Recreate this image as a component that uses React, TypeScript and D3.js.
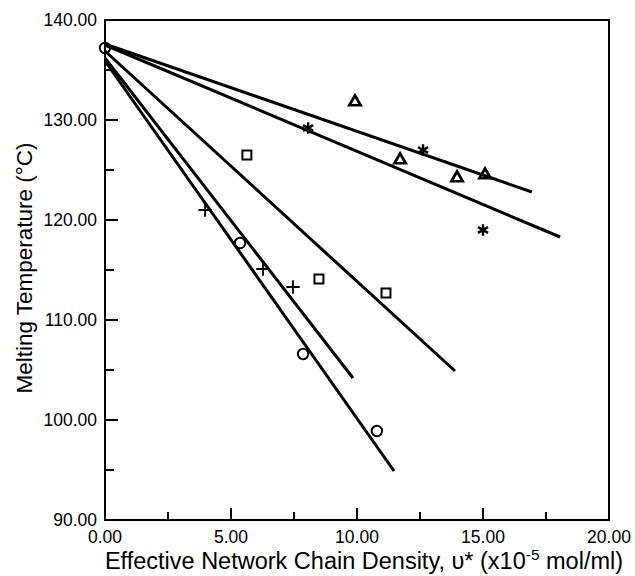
import React, { useEffect, useRef } from 'react';
import * as d3 from 'd3';

// fitted lines: [v start, T start, v end, T end]
const lineTriangle = [0, 137.6, 16.94, 122.8];
const lineStar = [0, 137.5, 18.06, 118.3];
const lineSquare = [0, 136.9, 13.89, 104.9];
const linePlus = [0, 136.2, 9.84, 104.2];
const lineCircle = [0, 135.9, 11.47, 94.9];

// measured points [v, T]
const triangles = [[9.92, 131.8], [11.71, 126.0], [13.97, 124.2], [15.08, 124.5]];
const stars = [[8.06, 129.2], [12.62, 127.0], [15.0, 119.0]];
const squares = [[5.63, 126.5], [8.49, 114.1], [11.15, 112.7]];
const pluses = [[3.97, 121.0], [6.27, 115.1], [7.46, 113.3]];
const circles = [[0, 137.2], [5.36, 117.7], [7.86, 106.6], [10.79, 98.9]];

const xTicks = [0, 2.5, 5, 7.5, 10, 12.5, 15, 17.5, 20];
const yTicks = [90, 95, 100, 105, 110, 115, 120, 125, 130, 135, 140];

const W = 635;
const H = 576;
const FONT = 'Liberation Sans, Arial, Helvetica, sans-serif';

const App = () => {
  const ref = useRef<SVGSVGElement>(null);

  useEffect(() => {
    const svg = d3.select(ref.current);
    svg.selectAll('*').remove();

    const x = d3.scaleLinear().domain([0, 20]).range([105, 609]);
    const y = d3.scaleLinear().domain([90, 140]).range([520, 20]);

    // frame
    svg.append('rect')
      .attr('x', x(0)).attr('y', y(140))
      .attr('width', x(20) - x(0)).attr('height', y(90) - y(140))
      .attr('fill', 'none').attr('stroke', '#000').attr('stroke-width', 2);

    // x ticks (inward)
    svg.append('g').selectAll('line').data(xTicks.slice(1, -1)).join('line')
      .attr('x1', d => x(d)).attr('x2', d => x(d))
      .attr('y1', y(90)).attr('y2', d => y(90) - (d % 5 === 0 ? 12 : 8))
      .attr('stroke', '#000').attr('stroke-width', 2);
    svg.append('g').selectAll('text').data(xTicks.filter(d => d % 5 === 0)).join('text')
      .attr('x', d => x(d)).attr('y', 543)
      .attr('text-anchor', 'middle')
      .attr('font-family', FONT).attr('font-size', 17.5)
      .text(d => d.toFixed(2));

    // y ticks
    svg.append('g').selectAll('line').data(yTicks.slice(1, -1)).join('line')
      .attr('x1', x(0)).attr('x2', d => x(0) + (d % 10 === 0 ? 13 : 9))
      .attr('y1', d => y(d)).attr('y2', d => y(d))
      .attr('stroke', '#000').attr('stroke-width', 2);
    svg.append('g').selectAll('text').data(yTicks.filter(d => d % 10 === 0)).join('text')
      .attr('x', 97).attr('y', d => y(d) + 6)
      .attr('text-anchor', 'end')
      .attr('font-family', FONT).attr('font-size', 17.5)
      .text(d => d.toFixed(2));

    // regression lines
    const lines = [lineTriangle, lineStar, lineSquare, linePlus, lineCircle];
    svg.append('g').selectAll('line').data(lines).join('line')
      .attr('x1', d => x(d[0])).attr('y1', d => y(d[1]))
      .attr('x2', d => x(d[2])).attr('y2', d => y(d[3]))
      .attr('stroke', '#000').attr('stroke-width', 3).attr('stroke-linecap', 'butt');

    const drawSymbols = (data: number[][], type: d3.SymbolType, size: number, sw: number) => {
      svg.append('g').selectAll('path').data(data).join('path')
        .attr('transform', d => `translate(${x(d[0])},${y(d[1])})`)
        .attr('d', d3.symbol().type(type).size(size)())
        .attr('fill', 'none').attr('stroke', '#000').attr('stroke-width', sw);
    };

    drawSymbols(circles, d3.symbolCircle, 85, 2);
    drawSymbols(squares, d3.symbolSquare, 80, 2);
    drawSymbols(triangles, d3.symbolTriangle, 55, 2.7);
    drawSymbols(stars, d3.symbolAsterisk, 95, 2.4);
    drawSymbols(pluses, d3.symbolPlus, 60, 1.8);

    // axis titles
    const xt = svg.append('text')
      .attr('x', 364).attr('y', 569)
      .attr('text-anchor', 'middle')
      .attr('font-family', FONT).attr('font-size', 23.5);
    xt.append('tspan').text('Effective Network Chain Density, \u03c5* (x10');
    xt.append('tspan').attr('dy', -9).attr('font-size', 15.5).text('-5');
    xt.append('tspan').attr('dy', 9).text(' mol/ml)');

    svg.append('text')
      .attr('transform', `translate(32,268) rotate(-90)`)
      .attr('text-anchor', 'middle')
      .attr('font-family', FONT).attr('font-size', 22.5)
      .text('Melting Temperature (\u00b0C)');
  }, []);

  return (
    <div style={{ position: 'absolute', left: 0, top: 0 }}>
      <svg ref={ref} width={W} height={H} style={{ display: 'block', background: '#fff' }} />
    </div>
  );
};

export default App;
